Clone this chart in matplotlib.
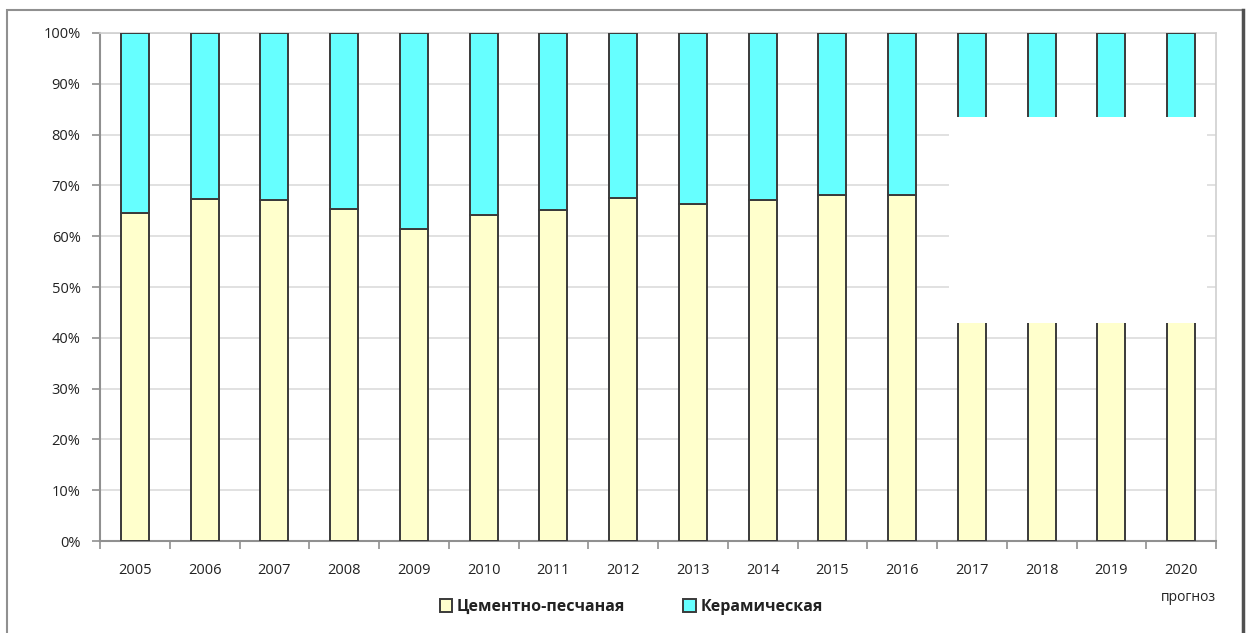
import numpy as np
import matplotlib.pyplot as plt
from matplotlib.patches import Rectangle

plt.rcParams['font.family'] = ['Open Sans', 'DejaVu Sans']

# data (share, %)
years = ['2005', '2006', '2007', '2008', '2009', '2010', '2011', '2012',
         '2013', '2014', '2015', '2016', '2017', '2018', '2019', '2020']
cement = [64.6, 67.3, 67.1, 65.4, 61.4, 64.2, 65.2, 67.5,
          66.3, 67.1, 68.1, 68.1, 66.0, 66.0, 66.0, 66.0]
ceramic = [100 - v for v in cement]
series_names = ['Цементно-песчаная', 'Керамическая']

fig = plt.figure(figsize=(12.5, 6.33), dpi=100)
ax = fig.add_axes([0.08, 0.1453, 0.8928, 0.8026])

x = np.arange(len(years))
edge = '#3a3a3a'
b1 = ax.bar(x, cement, width=0.4, color='#FFFFCC', edgecolor=edge, linewidth=1.4, zorder=3,
            label=series_names[0])
b2 = ax.bar(x, ceramic, width=0.4, bottom=cement, color='#66FFFF', edgecolor=edge, linewidth=1.4,
            zorder=3, label=series_names[1])

ax.set_xlim(-0.5, len(years) - 0.5)
ax.set_ylim(0, 100)
ax.set_yticks(np.arange(0, 101, 10))
ax.set_yticklabels(['%d%%' % v for v in range(0, 101, 10)])
ax.yaxis.grid(True, color='#dcdcdc', linewidth=1.2, zorder=0)

# category boundaries as ticks, labels at centers
ax.set_xticks(np.arange(-0.5, len(years), 1))
ax.set_xticklabels([])
ax.set_xticks(x, minor=True)
ax.set_xticklabels(years, minor=True)
ax.tick_params(axis='x', which='major', length=6, color='#909090', width=1.2)
ax.tick_params(axis='x', which='minor', length=0, pad=16, labelsize=10.5, labelcolor='#222222')
ax.tick_params(axis='y', length=6, color='#909090', width=1.2, pad=8, labelsize=10.5,
               labelcolor='#222222')

for s in ['left', 'bottom']:
    ax.spines[s].set_color('#909090')
    ax.spines[s].set_linewidth(1.5)
for s in ['top', 'right']:
    ax.spines[s].set_color('#d0d0d0')
    ax.spines[s].set_linewidth(1.2)

# white patch covering the forecast part
ax.add_patch(Rectangle((11.67, 43.0), 3.7, 40.4, facecolor='white', edgecolor='none', zorder=5))

ax.text(15.1, -11.2, 'прогноз', ha='center', va='center', fontsize=10, color='#222222',
        clip_on=False)

leg = fig.legend(handles=[b1, b2], loc='center', bbox_to_anchor=(0.505, 0.041), ncol=2,
                 frameon=False, fontsize=11.5, handlelength=0.8, handleheight=0.8,
                 handletextpad=0.3, columnspacing=3.6)
for t in leg.get_texts():
    t.set_fontweight('bold')
    t.set_color('#222222')

# outer frame of the chart
fig.patches.append(Rectangle((7 / 1250, -0.01), 1236 / 1250, 1 - 10 / 633 + 0.01,
                             transform=fig.transFigure, fill=False, edgecolor='#909090',
                             linewidth=1.5))
fig.lines.append(plt.Line2D([1243 / 1250, 1243 / 1250], [0, 1 - 10 / 633],
                            transform=fig.transFigure, color='#505050', linewidth=2.5))

fig.savefig('out.png', dpi=100)
